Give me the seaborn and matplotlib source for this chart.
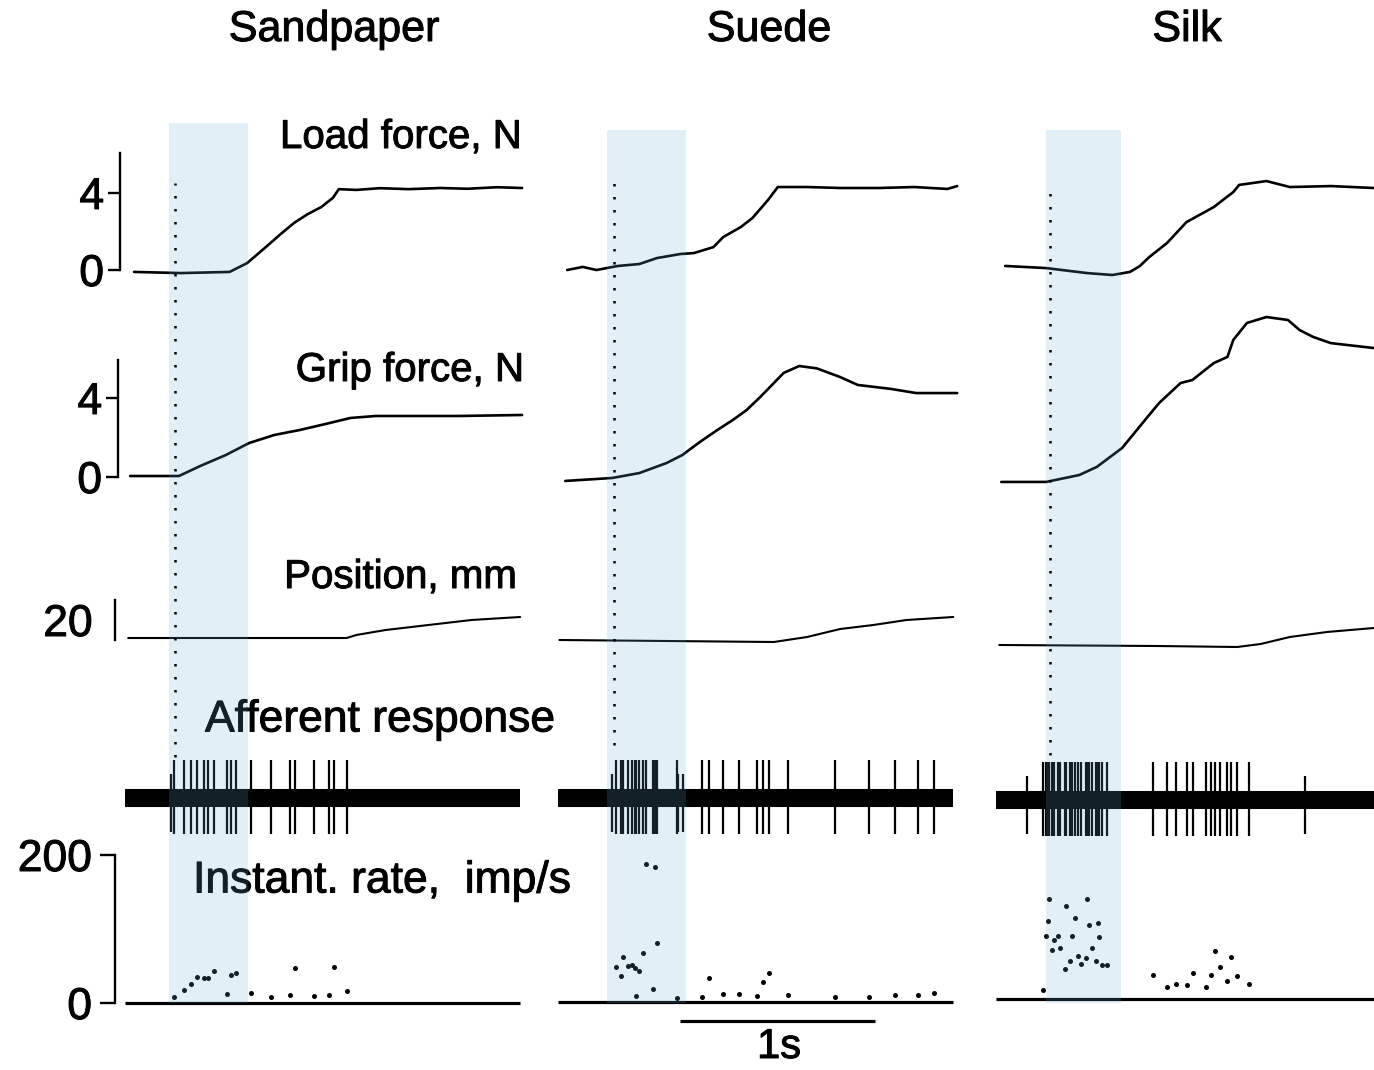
import matplotlib
matplotlib.use("Agg")
import matplotlib.pyplot as plt
import matplotlib.patheffects as pe
import seaborn as sns

# ---- data (time in s from grip onset) ----
columns = ["Sandpaper", "Suede", "Silk"]

sand_load_t = [-0.21, 0.03, 0.28, 0.37, 0.46, 0.54, 0.61, 0.68, 0.75, 0.81, 0.84, 0.93, 1.05, 1.2, 1.36,
               1.5, 1.65, 1.78]
sand_load = [-0.1, -0.16, -0.1, 0.36, 1.14, 1.85, 2.44, 2.9, 3.27, 3.75, 4.2, 4.16, 4.25, 4.2, 4.26,
             4.22, 4.3, 4.26]
suede_load_t = [-0.24, -0.16, -0.09, 0.02, 0.13, 0.22, 0.34, 0.41, 0.51, 0.56, 0.65, 0.71, 0.79, 0.84,
                0.99, 1.16, 1.36, 1.54, 1.71, 1.76]
suede_load = [0, 0.16, 0, 0.21, 0.31, 0.62, 0.83, 0.88, 1.19, 1.71, 2.23, 2.7, 3.64, 4.31,
              4.31, 4.26, 4.26, 4.31, 4.21, 4.36]
silk_load_t = [-0.23, -0.02, 0.19, 0.32, 0.41, 0.46, 0.51, 0.6, 0.7, 0.84, 0.94, 0.97, 1.11, 1.23, 1.44, 1.66]
silk_load = [0.21, 0.1, -0.16, -0.26, -0.1, 0.2, 0.68, 1.4, 2.49, 3.27, 4.05, 4.42, 4.62, 4.31, 4.36, 4.26]

sand_grip_t = [-0.23, 0.02, 0.13, 0.26, 0.38, 0.51, 0.64, 0.77, 0.9, 1.03, 1.15, 1.46, 1.78]
sand_grip = [0.05, 0.05, 0.56, 1.11, 1.72, 2.13, 2.38, 2.68, 2.99, 3.09, 3.09, 3.09, 3.14]
suede_grip_t = [-0.25, -0.01, 0.13, 0.27, 0.35, 0.44, 0.53, 0.61, 0.68, 0.75, 0.82, 0.87, 0.95, 1.04,
                1.16, 1.25, 1.42, 1.55, 1.76]
suede_grip = [-0.2, -0.05, 0.2, 0.71, 1.11, 1.77, 2.38, 2.89, 3.39, 4.05, 4.76, 5.27, 5.62, 5.5,
              5.06, 4.66, 4.46, 4.25, 4.25]
silk_grip_t = [-0.25, -0.02, 0.15, 0.24, 0.37, 0.5, 0.56, 0.67, 0.73, 0.84, 0.91, 0.94, 1.01, 1.11,
               1.22, 1.28, 1.35, 1.44, 1.66]
silk_grip = [-0.25, -0.25, 0.1, 0.51, 1.47, 3.04, 3.75, 4.76, 4.91, 5.77, 6.08, 6.94, 7.8, 8.1,
             7.95, 7.44, 7.09, 6.78, 6.53]

sand_pos_t = [-0.24, 0.88, 0.93, 1.08, 1.3, 1.52, 1.77]
sand_pos = [0, 0, 1.5, 4, 6.5, 9, 10.5]
suede_pos_t = [-0.28, 0.82, 0.99, 1.16, 1.33, 1.5, 1.74]
suede_pos = [-1, -2, 0.5, 4.5, 6.5, 9, 10.5]
silk_pos_t = [-0.26, 0.55, 0.96, 1.08, 1.23, 1.42, 1.66]
silk_pos = [-3.5, -4, -4.5, -3, 0.5, 3, 5]

# instantaneous rate, imp/s (one dot per spike)
sand_rate_t = [-0.005, 0.046, 0.082, 0.115, 0.149, 0.169, 0.198, 0.267, 0.287, 0.313,
               0.39, 0.492, 0.59, 0.615, 0.713, 0.79, 0.815, 0.882]
sand_rate = [8, 18, 26, 35, 34, 34, 43, 12, 38, 41, 13, 8, 11, 47, 9, 11, 49, 16]
suede_rate_t = [0.01, 0.036, 0.046, 0.072, 0.092, 0.108, 0.128, 0.149, 0.112, 0.164, 0.2, 0.21, 0.221,
                0.323, 0.451, 0.487, 0.559, 0.641, 0.733, 0.764, 0.795, 0.892, 1.133, 1.308, 1.441,
                1.559, 1.641]
suede_rate = [47, 35, 61, 49, 50, 46, 42, 66, 8, 186, 18, 182, 80,
              5, 7, 32, 11, 11, 8, 27, 39, 9, 7, 7, 9, 9, 12]
silk_rate_t = [-0.036, -0.005, -0.01, -0.021, 0.01, 0.021, 0.041, 0.051, 0.077, 0.082, 0.103, 0.113,
               0.128, 0.144, 0.159, 0.185, 0.19, 0.2, 0.215, 0.236, 0.246, 0.25, 0.267, 0.292,
               0.528, 0.6, 0.646, 0.703, 0.733, 0.8, 0.826, 0.846, 0.872, 0.908, 0.928, 0.959, 1.021]
silk_rate = [12, 135, 105, 85, 66, 80, 85, 69, 41, 126, 51, 85,
             109, 58, 47, 55, 135, 100, 69, 51, 103, 84, 46, 46,
             32, 16, 20, 19, 35, 16, 32, 65, 43, 24, 57, 31, 20]

# spikes without a rate dot (small ones)
sand_extra_spikes = [-0.02]
suede_extra_spikes = [-0.01, 0.33, 0.355]
silk_extra_spikes = [-0.118, 1.308]

# shaded window (s) and record extents (s)
band_start = [-0.03, -0.036, -0.021]
band_end = [0.374, 0.369, 0.364]
record_start = [-0.256, -0.287, -0.277]
record_end = [1.769, 1.738, 1.7]

load_t = [sand_load_t, suede_load_t, silk_load_t]
load = [sand_load, suede_load, silk_load]
grip_t = [sand_grip_t, suede_grip_t, silk_grip_t]
grip = [sand_grip, suede_grip, silk_grip]
pos_t = [sand_pos_t, suede_pos_t, silk_pos_t]
pos = [sand_pos, suede_pos, silk_pos]
rate_t = [sand_rate_t, suede_rate_t, silk_rate_t]
rate = [sand_rate, suede_rate, silk_rate]
extra_spikes = [sand_extra_spikes, suede_extra_spikes, silk_extra_spikes]

# ---- layout ----
W, H = 1374, 1070
PX_PER_S = 195
T0_PX = [175, 614, 1050]
XLIM = (-0.35, 1.85)
BAND_TOP = [123, 130, 130]
BAND_BOTTOM = 1003
DOT_TOP = [183, 180, 185]
DOT_BOTTOM = [757, 745, 755]

sns.set_theme(style="white")
plt.rcParams["font.family"] = ["Liberation Sans", "DejaVu Sans"]
FS = 29
BOLDISH = [pe.withStroke(linewidth=0.7, foreground="black")]

fig = plt.figure(figsize=(W / 100, H / 100), dpi=100)


def add_ax(col, zero_px, ppu, ylim):
    left = T0_PX[col] + XLIM[0] * PX_PER_S
    width = (XLIM[1] - XLIM[0]) * PX_PER_S
    top = zero_px - ylim[1] * ppu
    bottom = zero_px - ylim[0] * ppu
    ax = fig.add_axes([left / W, 1 - bottom / H, width / W, (bottom - top) / H])
    ax.set_xlim(XLIM)
    ax.set_ylim(ylim)
    ax.patch.set_alpha(0)
    for s in ax.spines.values():
        s.set_visible(False)
    ax.set_xticks([])
    ax.set_yticks([])
    return ax


def scale_spine(ax, xpos, bounds, ticks, labels, tick_len, pad):
    sp = ax.spines["left"]
    sp.set_visible(True)
    sp.set_color("black")
    sp.set_linewidth(1.7)
    sp.set_bounds(*bounds)
    sp.set_position(("data", xpos))
    ax.set_yticks(ticks)
    ax.set_yticklabels(labels)
    ax.tick_params(axis="y", left=True, direction="out", length=tick_len, width=1.7,
                   pad=pad, labelsize=32, colors="black")
    for lab in ax.get_yticklabels():
        lab.set_path_effects(BOLDISH)


rate_zero = [1003, 1002, 999]
aff_zero = [798, 798, 800]

for c in range(3):
    # load force
    ax = add_ax(c, 270, 19.25, (-2, 6.5))
    sns.lineplot(x=load_t[c], y=load[c], ax=ax, color="black", lw=1.9, estimator=None, sort=False)
    ax.set_xlabel(""); ax.set_ylabel("")
    if c == 0:
        scale_spine(ax, -0.282, (0, 6.08), [0, 4], ["0", "4"], 8.5, 3)

    # grip force
    ax = add_ax(c, 477, 19.75, (-2, 9))
    sns.lineplot(x=grip_t[c], y=grip[c], ax=ax, color="black", lw=1.9, estimator=None, sort=False)
    ax.set_xlabel(""); ax.set_ylabel("")
    if c == 0:
        scale_spine(ax, -0.292, (0, 5.92), [0, 4], ["0", "4"], 8.5, 3)

    # position
    ax = add_ax(c, 638, 2, (-12, 22))
    sns.lineplot(x=pos_t[c], y=pos[c], ax=ax, color="black", lw=1.5, estimator=None, sort=False)
    ax.set_xlabel(""); ax.set_ylabel("")
    if c == 0:
        scale_spine(ax, -0.308, (-1, 19), [9], ["20"], 0, 16)

    # afferent response
    ax = add_ax(c, aff_zero[c], 1, (-50, 50))
    ax.plot([record_start[c], record_end[c]], [0, 0], color="black", lw=13, solid_capstyle="butt")
    ax.vlines(rate_t[c], -36, 38, color="black", lw=1.6)
    ax.vlines(extra_spikes[c], -34, 24, color="black", lw=1.6)

    # instantaneous rate
    ax = add_ax(c, rate_zero[c], 0.74, (-20, 210))
    ax.plot([record_start[c], record_end[c]], [0, 0], color="black", lw=2.3, solid_capstyle="butt")
    sns.scatterplot(x=rate_t[c], y=rate[c], ax=ax, color="black", s=13, linewidth=0, legend=False)
    ax.set_xlabel(""); ax.set_ylabel("")
    if c == 0:
        scale_spine(ax, -0.308, (0, 200), [0, 200], ["0", "200"], 10.5, 6)
    if c == 1:
        ax.hlines(-25, 0.34, 1.34, color="black", lw=2.3, clip_on=False)

    # shaded window and onset marker on top of everything
    left = T0_PX[c] + XLIM[0] * PX_PER_S
    width = (XLIM[1] - XLIM[0]) * PX_PER_S
    ov = fig.add_axes([left / W, 0, width / W, 1], zorder=10)
    ov.set_xlim(XLIM)
    ov.set_ylim(0, 1)
    ov.axis("off")
    ov.axvspan(band_start[c], band_end[c], ymin=1 - BAND_BOTTOM / H, ymax=1 - BAND_TOP[c] / H,
               color=(0.42, 0.68, 0.84), alpha=0.19, lw=0)
    ov.axvline(0, ymin=1 - DOT_BOTTOM[c] / H, ymax=1 - DOT_TOP[c] / H, color="black",
               lw=1.8, linestyle=(0, (1, 4.2)))


# ---- titles and labels ----
def ftext(x, y, s, size=FS, **kw):
    fig.text(x / W, 1 - y / H, s, fontsize=size, color="black", path_effects=BOLDISH, **kw)


for name, xc in zip(columns, [334, 769, 1187]):
    ftext(xc, 30, name, size=31, ha="center", va="center")
ftext(522, 137, "Load force, N", ha="right", va="center")
ftext(524, 370, "Grip force, N", ha="right", va="center")
ftext(517, 577, "Position, mm", ha="right", va="center")
ftext(205, 720, "Afferent response", size=32, ha="left", va="center")
ftext(193, 881, "Instant. rate,  imp/s", size=32, ha="left", va="center")
ftext(779, 1047, "1s", size=30, ha="center", va="center")

fig.savefig("out.png", dpi=100)
